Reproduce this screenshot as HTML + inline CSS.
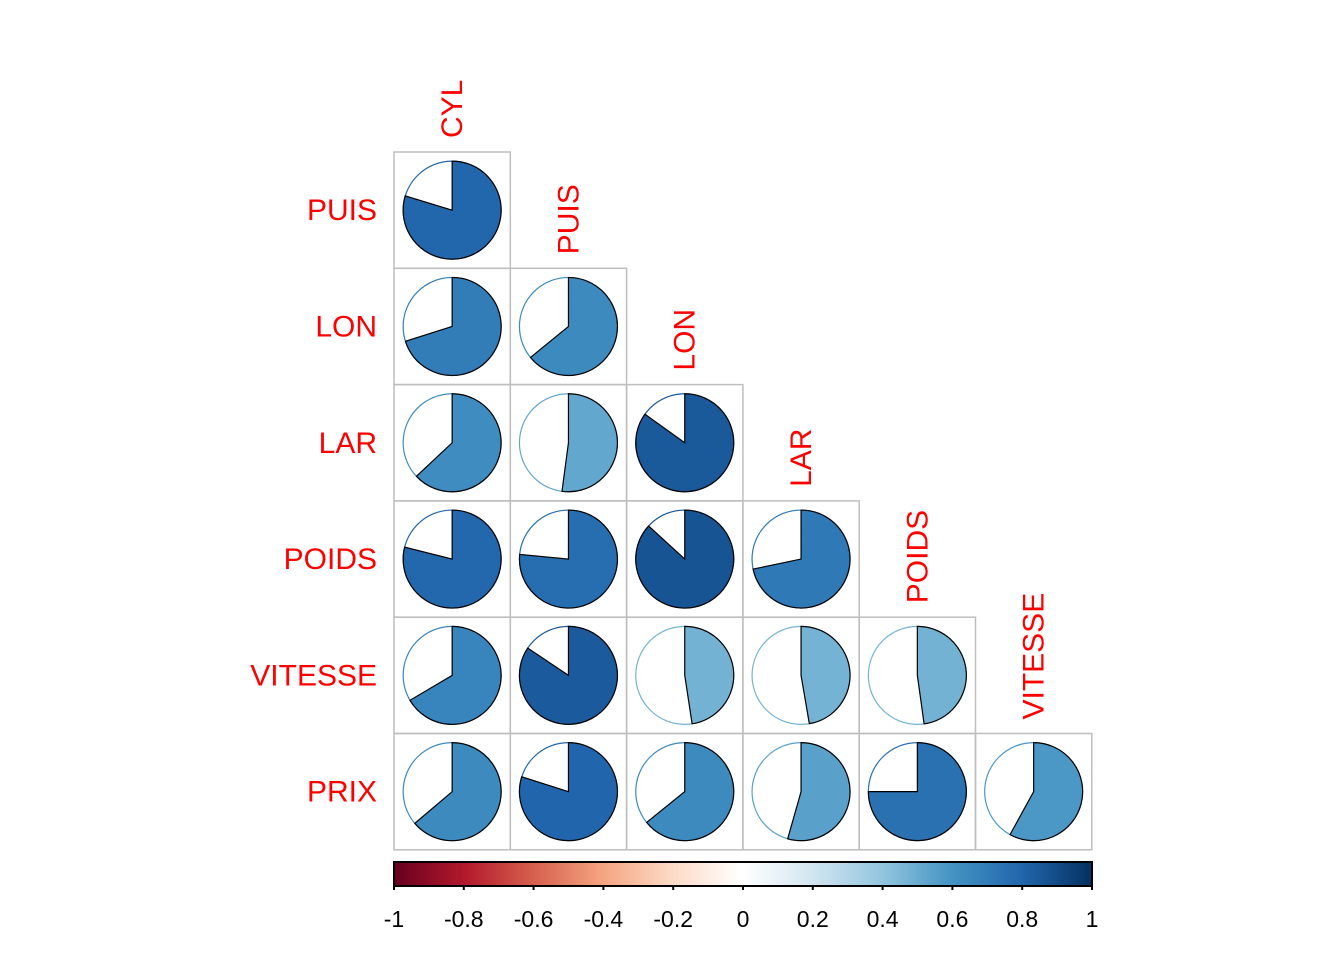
<!DOCTYPE html>
<html><head><meta charset="utf-8"><style>
html,body{margin:0;padding:0;background:#fff}
svg{display:block;font-family:"Liberation Sans",Arial,sans-serif}
</style></head><body>
<svg id="chart" width="1344" height="960" viewBox="0 0 1344 960" xmlns="http://www.w3.org/2000/svg"></svg>
<script>
const variables = ["CYL","PUIS","LON","LAR","POIDS","VITESSE","PRIX"];
const corrRows = [
  [0.797],
  [0.701,0.641],
  [0.630,0.521,0.849],
  [0.789,0.765,0.868,0.717],
  [0.665,0.844,0.476,0.473,0.478],
  [0.638,0.799,0.642,0.544,0.750,0.580]
];
const tickLabels = ["-1","-0.8","-0.6","-0.4","-0.2","0","0.2","0.4","0.6","0.8","1"];
const tickValues = [-1,-0.8,-0.6,-0.4,-0.2,0,0.2,0.4,0.6,0.8,1];

const pal = ["#67001F","#B2182B","#D6604D","#F4A582","#FDDBC7","#FFFFFF","#D1E5F0","#92C5DE","#4393C3","#2166AC","#053061"];
function hex(h){return [1,3,5].map(i=>parseInt(h.substr(i,2),16));}
function col(v){
  const t=(v+1)/2*(pal.length-1);
  const i=Math.min(pal.length-2,Math.floor(t)), f=t-i;
  const a=hex(pal[i]), b=hex(pal[i+1]);
  return "rgb("+a.map((x,k)=>Math.round(x+(b[k]-x)*f)).join(",")+")";
}
const NS="http://www.w3.org/2000/svg";
const svg=document.getElementById("chart");
function el(t,attrs,parent){const e=document.createElementNS(NS,t);for(const k in attrs)e.setAttribute(k,attrs[k]);(parent||svg).appendChild(e);return e;}

const x0=394, y0=152, cw=116.3, ch=116.3, R=49;
const xCell=j=>x0+j*cw, yCell=i=>y0+(i-1)*ch;

corrRows.forEach((row,ri)=>{
  const i=ri+1;
  row.forEach((v,j)=>{
    const g=el("g",{});
    
    
    const x=xCell(j), y=yCell(i);
    el("rect",{x:x,y:y,width:cw,height:ch,fill:"none",stroke:"#BEBEBE","stroke-width":1.5},g);
    const cx=x+cw/2, cy=y+ch/2, c=col(v);
    el("circle",{cx:cx,cy:cy,r:R,fill:"#fff",stroke:c,"stroke-width":1.2},g);
    const a=2*Math.PI*Math.abs(v);
    const ex=cx+R*Math.sin(a), ey=cy-R*Math.cos(a);
    const large=a>Math.PI?1:0;
    el("path",{d:`M${cx},${cy}L${cx},${cy-R}A${R},${R} 0 ${large} 1 ${ex},${ey}Z`,fill:c,stroke:"#000","stroke-width":1.2},g);
  });
});
for(let i=1;i<variables.length;i++){
  const t=el("text",{x:377,y:yCell(i)+ch/2+10,"text-anchor":"end","font-size":30,fill:"#FF0000"});
  t.textContent=variables[i];
  
  
}
for(let j=0;j<variables.length-1;j++){
  const cx=xCell(j)+cw/2+10, by=yCell(j+1)-14;
  const t=el("text",{x:cx,y:by,transform:`rotate(-90 ${cx} ${by})`,"font-size":30,fill:"#FF0000"});
  t.textContent=variables[j];
  
  
}
const bx=394, bw=698, by=862, bh=24;
const defs=el("defs",{});
const lg=el("linearGradient",{id:"cb",x1:0,x2:1,y1:0,y2:0},defs);
for(let k=0;k<=40;k++){const v=-1+k/20;el("stop",{offset:(k/40),"stop-color":col(v)},lg);}
const bar=el("rect",{x:bx,y:by,width:bw,height:bh,fill:"url(#cb)",stroke:"#000","stroke-width":2});


const sx=v=>bx+(v+1)/2*bw;
tickValues.forEach((v,k)=>{
  el("line",{x1:sx(v),x2:sx(v),y1:by+bh,y2:by+bh+4,stroke:"#000","stroke-width":2});
  const t=el("text",{x:sx(v),y:927,"text-anchor":"middle","font-size":23,fill:"#000"});
  t.textContent=tickLabels[k];
  
  
});
</script>
</body></html>
